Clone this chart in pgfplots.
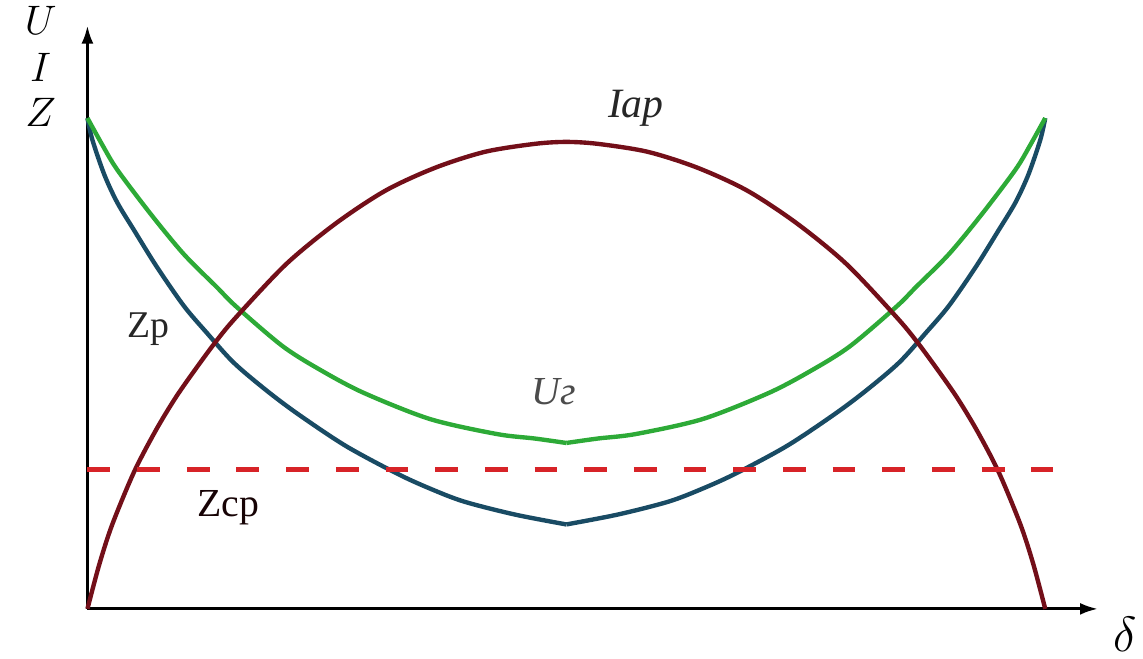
\documentclass[border=0pt]{standalone}
\usepackage{fontspec}
\setmainfont{Liberation Serif}
\usepackage{pgfplots}
\pgfplotsset{compat=1.18}
\usetikzlibrary{arrows.meta}
\definecolor{iapc}{RGB}{115,15,25}
\definecolor{ugc}{RGB}{45,170,55}
\definecolor{zpc}{RGB}{25,75,100}
\definecolor{zcpc}{RGB}{215,35,40}

% curves, in pixels from the origin
\pgfplotstableread{
x y
0 0
12 45
25 85
47 138
69 180
89 213
110 243
130 270
150 294
200 347
250 388
300 421
350 444
400 460
450 468
482 470
514 468
564 460
614 444
664 421
714 388
764 347
814 294
834 270
854 243
875 213
895 180
917 138
939 85
952 45
964 0
}\iap

\pgfplotstableread{
x y
0 494
15 467
30 442
64 397
97 357
130 324
150 304
197 264
237 239
279 217
345 191
412 176
450 171.5
482 167
514 171.5
552 176
619 191
685 217
727 239
767 264
814 304
834 324
867 357
900 397
934 442
949 467
964 494
}\ug

\pgfplotstableread{
x y
0 494
5 472
17 437
30 409
47 381
70 344
97 305
120 278
147 248
180 220
212 196
260 164
312 136
345 121
379 108
430 95
482 85
534 95
585 108
619 121
652 136
704 164
752 196
784 220
817 248
844 278
867 305
894 344
917 381
934 409
947 437
959 472
964 494
}\zp

\begin{document}
\begin{tikzpicture}
\begin{axis}[
    scale only axis,
    width=571.5pt, height=329pt,
    xmin=-88, xmax=1055, ymin=-46, ymax=612,
    hide axis,
    clip=false,
]
\path (axis cs:-88,-46) rectangle (axis cs:1055,612);
\draw[line width=1.4pt, -{Latex[length=9pt,width=6pt]}] (axis cs:0,0) -- (axis cs:1017,0);
\draw[line width=1.4pt, -{Latex[length=9pt,width=6pt]}] (axis cs:0,0) -- (axis cs:0,587);

% each half drawn on its own to keep the corner in the middle
\addplot[zpc, line width=2.2pt, smooth, restrict x to domain=0:482] table {\zp};
\addplot[zpc, line width=2.2pt, smooth, restrict x to domain=482:964] table {\zp};
\addplot[ugc, line width=2.2pt, smooth, restrict x to domain=0:482] table {\ug};
\addplot[ugc, line width=2.2pt, smooth, restrict x to domain=482:964] table {\ug};
\addplot[iapc, line width=2.2pt, smooth] table {\iap};
\addplot[zcpc, line width=2.5pt, dash pattern=on 11.5pt off 13.5pt] coordinates {(0,140) (972,140)};

\node[font=\fontsize{21}{21}\selectfont] at (axis cs:-47,592) {$U$};
\node[font=\fontsize{21}{21}\selectfont] at (axis cs:-47,545) {$I$};
\node[font=\fontsize{21}{21}\selectfont] at (axis cs:-47,500) {$Z$};
\node[font=\fontsize{24}{24}\selectfont] at (axis cs:1044,-26) {$\delta$};

\node[black!85, font=\fontsize{21}{21}\selectfont\itshape] at (axis cs:552,504) {Iар};
\node[black!85, font=\fontsize{19}{19}\selectfont] at (axis cs:61,282) {Zр};
\node[black!70, font=\fontsize{20}{20}\selectfont\itshape] at (axis cs:469,219) {Uг};
\node[black!80!iapc, font=\fontsize{20}{20}\selectfont] at (axis cs:142,102) {Zср};
\end{axis}
\end{tikzpicture}
\end{document}
